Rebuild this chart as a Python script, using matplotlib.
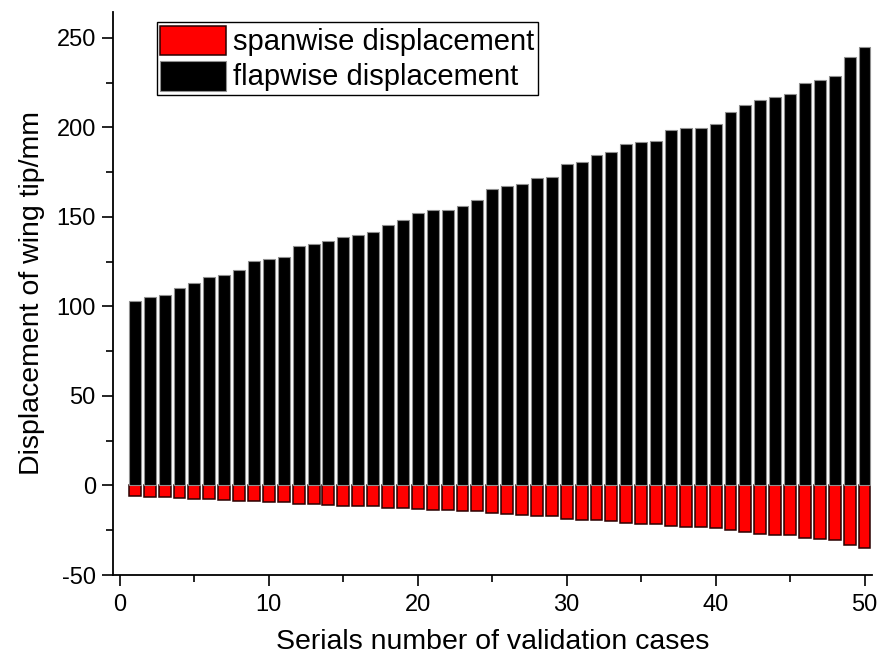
import matplotlib
matplotlib.use("Agg")
import matplotlib.pyplot as plt
from matplotlib.ticker import MultipleLocator
import numpy as np

plt.rcParams['font.family'] = ['Liberation Sans', 'DejaVu Sans']
plt.rcParams['axes.unicode_minus'] = False

cases = list(range(1, 51))
flapwise = [103.2, 105.2, 106.1, 110.2, 113.0, 116.4, 117.7, 120.3, 125.3, 126.4,
            127.5, 134.0, 135.0, 136.3, 138.7, 140.0, 141.8, 145.2, 148.4, 152.1,
            153.6, 153.8, 156.2, 159.3, 165.8, 167.5, 168.1, 171.8, 172.5, 179.6,
            180.9, 184.4, 186.1, 190.7, 191.7, 192.4, 198.5, 199.5, 199.7, 201.9,
            208.4, 212.5, 215.3, 217.1, 218.8, 224.8, 226.6, 228.5, 239.3, 245.0]
spanwise = [-5.9, -6.3, -6.5, -7.1, -7.4, -7.8, -8.0, -8.4, -8.9, -9.1,
            -9.3, -10.2, -10.4, -10.8, -11.2, -11.3, -11.7, -12.3, -12.8, -13.4,
            -13.8, -13.8, -14.1, -14.5, -15.6, -16.2, -16.4, -17.1, -17.3, -18.6,
            -19.0, -19.5, -20.1, -21.0, -21.4, -21.6, -22.7, -23.0, -23.2, -23.6,
            -25.1, -26.2, -26.9, -27.5, -27.9, -29.6, -29.9, -30.3, -33.5, -35.1]

x_ticks = [0, 10, 20, 30, 40, 50]
y_ticks = [-50, 0, 50, 100, 150, 200, 250]

fig = plt.figure(figsize=(8.79, 6.63), dpi=100)
ax = fig.add_axes([0.128, 0.1327, 0.864, 0.8495])

ax.bar(cases, spanwise, width=0.8, color='#ff0000', edgecolor='#2a0000',
       linewidth=1.1, label='spanwise displacement', zorder=3)
ax.bar(cases, flapwise, width=0.8, color='#000000', edgecolor='#909090',
       linewidth=0.8, label='flapwise displacement', zorder=3)

ax.set_xlim(-0.5, 50.5)
ax.set_ylim(-50, 264.5)
ax.set_xticks(x_ticks)
ax.set_yticks(y_ticks)
ax.xaxis.set_minor_locator(MultipleLocator(5))
ax.yaxis.set_minor_locator(MultipleLocator(25))

for s in ['top', 'right']:
    ax.spines[s].set_visible(False)
for s in ['left', 'bottom']:
    ax.spines[s].set_linewidth(1.3)

ax.tick_params(axis='both', which='major', direction='out', length=8, width=1.2,
               labelsize=17, colors='black')
ax.tick_params(axis='both', which='minor', direction='out', length=5, width=1.2)
ax.tick_params(axis='x', which='major', pad=6)
ax.tick_params(axis='y', which='major', pad=4)

ax.set_xlabel('Serials number of validation cases', fontsize=20.5, labelpad=9)
ax.set_ylabel('Displacement of wing tip/mm', fontsize=20.5, labelpad=8)

leg = ax.legend(loc='upper left', bbox_to_anchor=(157 / 879, 1 - 22 / 663),
                bbox_transform=fig.transFigure, borderaxespad=0,
                fontsize=21, fancybox=False, framealpha=1,
                edgecolor='black', handlelength=2.25, handleheight=1.2,
                handletextpad=0.25, labelspacing=0.15, borderpad=0.12)
leg.get_frame().set_linewidth(1.0)

fig.savefig('out.png', dpi=100)
